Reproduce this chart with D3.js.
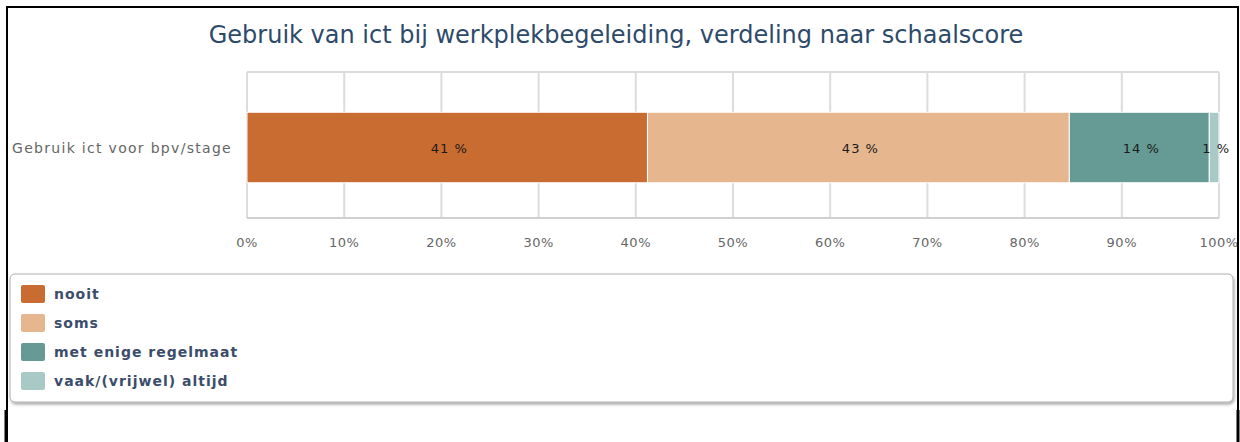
<!DOCTYPE html>
<html>
<head>
<meta charset="utf-8">
<script src="https://cdn.jsdelivr.net/npm/d3@7"></script>
<style>
  body { margin: 0; background: #fff; }
  svg { display: block; font-family: "DejaVu Sans", Verdana, sans-serif; }
</style>
</head>
<body>
<div class="chart"></div>
<script>
var width = 1240, height = 442;

// data
var categories = ["Gebruik ict voor bpv/stage"];
var seriesNames = ["nooit", "soms", "met enige regelmaat", "vaak/(vrijwel) altijd"];
var seriesColors = ["#c96c31", "#e6b78f", "#659b94", "#a9c9c6"];
var seriesValues = [41.2, 43.4, 14.4, 1.0];
var tickValues = [0, 10, 20, 30, 40, 50, 60, 70, 80, 90, 100];

var svg = d3.select(".chart").append("svg")
    .attr("width", width)
    .attr("height", height);

svg.append("defs").append("clipPath").attr("id", "frame")
    .append("rect").attr("x", 0).attr("y", 0).attr("width", 1237).attr("height", height);

var g = svg.append("g").attr("clip-path", "url(#frame)");

/************* title ***************/
g.append("text")
    .attr("x", 616)
    .attr("y", 43)
    .attr("text-anchor", "middle")
    .attr("fill", "#2e4a6b")
    .style("font-size", "24px")
    .text("Gebruik van ict bij werkplekbegeleiding, verdeling naar schaalscore");

/************* scales ***************/
var x = d3.scaleLinear().domain([0, 100]).range([247, 1219]);
var y = d3.scaleBand().domain(categories).range([77, 218]).paddingInner(0).paddingOuter(0.5);

// grid
g.append("g")
    .selectAll("line")
    .data(tickValues)
    .enter().append("line")
        .attr("x1", d => x(d)).attr("x2", d => x(d))
        .attr("y1", 72).attr("y2", 218)
        .attr("stroke", "#dcdcdc")
        .attr("stroke-width", 2);

g.append("line")
    .attr("x1", x(0)).attr("x2", x(100))
    .attr("y1", 72).attr("y2", 72)
    .attr("stroke", "#dcdcdc").attr("stroke-width", 2);
g.append("line")
    .attr("x1", x(0)).attr("x2", x(100))
    .attr("y1", 218).attr("y2", 218)
    .attr("stroke", "#d0d0d0").attr("stroke-width", 2);

/************* stacked bars ***************/
var row = {};
seriesNames.forEach((s, i) => row[s] = seriesValues[i]);
row.cat = categories[0];
var stacked = d3.stack().keys(seriesNames)([row]);

var layers = g.append("g").selectAll("g")
    .data(stacked)
    .enter().append("g")
        .attr("fill", (d, i) => seriesColors[i]);

layers.selectAll("rect")
    .data(d => d)
    .enter().append("rect")
        .attr("x", d => x(d[0]))
        .attr("width", d => x(d[1]) - x(d[0]))
        .attr("y", d => y(d.data.cat))
        .attr("height", y.bandwidth())
        .attr("stroke", "#fff")
        .attr("stroke-width", 1);

layers.selectAll("text")
    .data(d => d)
    .enter().append("text")
        .attr("x", d => (x(d[0]) + x(d[1])) / 2 + 2)
        .attr("y", d => y(d.data.cat) + y.bandwidth() / 2 + 5)
        .attr("text-anchor", "middle")
        .attr("fill", "#1a1a1a")
        .style("font-size", "13px")
        .style("letter-spacing", "1px")
        .text(d => Math.round(d[1] - d[0]) + " %");

/************* axes labels ***************/
g.append("g").selectAll("text")
    .data(tickValues)
    .enter().append("text")
        .attr("x", d => x(d))
        .attr("y", 247)
        .attr("text-anchor", "middle")
        .attr("fill", "#666")
        .style("font-size", "13px")
        .style("letter-spacing", "0.5px")
        .text(d => d + "%");

g.append("g").selectAll("text")
    .data(categories)
    .enter().append("text")
        .attr("x", 12)
        .attr("y", d => y(d) + y.bandwidth() / 2 + 5)
        .attr("fill", "#666")
        .style("font-size", "14px")
        .style("letter-spacing", "1.3px")
        .text(d => d);

/************* legend ***************/
var shadow = svg.select("defs").append("filter").attr("id", "shadow")
    .attr("x", "-5%").attr("y", "-10%").attr("width", "110%").attr("height", "130%");
shadow.append("feDropShadow").attr("dx", 1).attr("dy", 2).attr("stdDeviation", 1.5)
    .attr("flood-color", "#000").attr("flood-opacity", 0.35);

g.append("rect")
    .attr("x", 10).attr("y", 274)
    .attr("width", 1223).attr("height", 128)
    .attr("rx", 5)
    .attr("fill", "#fff")
    .attr("stroke", "#b0b0b0")
    .attr("filter", "url(#shadow)");

var legend = g.append("g").selectAll("g")
    .data(seriesNames)
    .enter().append("g")
        .attr("transform", (d, i) => "translate(21," + (285 + i * 29) + ")");

legend.append("rect")
    .attr("width", 24).attr("height", 18).attr("rx", 2)
    .attr("fill", (d, i) => seriesColors[i]);

legend.append("text")
    .attr("x", 33).attr("y", 14)
    .attr("fill", "#3b4d6b")
    .style("font-size", "14px")
    .style("font-weight", "bold")
    .style("letter-spacing", "1px")
    .text(d => d);

/************* frame ***************/
svg.append("path")
    .attr("d", "M7,442V7H1238V442")
    .attr("fill", "none")
    .attr("stroke", "#000")
    .attr("stroke-width", 2);
svg.append("line").attr("x1", 6).attr("x2", 6).attr("y1", 410).attr("y2", 442)
    .attr("stroke", "#000").attr("stroke-width", 3);
svg.append("line").attr("x1", 1238).attr("x2", 1238).attr("y1", 410).attr("y2", 442)
    .attr("stroke", "#000").attr("stroke-width", 3);
</script>
</body>
</html>
